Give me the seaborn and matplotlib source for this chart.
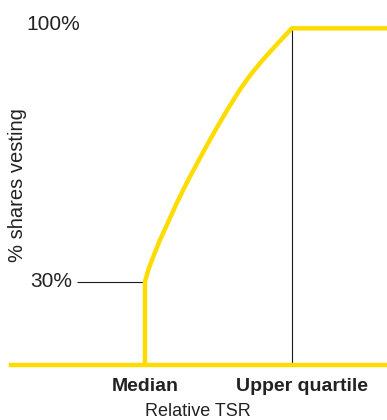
import matplotlib
matplotlib.use("Agg")
import matplotlib.pyplot as plt
import seaborn as sns
import pandas as pd

# Vesting schedule: nothing below median, 30% at median, rising to 100% at upper quartile
relative_tsr = [27.0, 50.0, 50.0, 50.56, 51.41, 52.55, 53.69, 55.39, 57.36, 59.64, 61.90,
                64.17, 65.31, 66.44, 67.86, 69.56, 71.26, 72.96, 75.0, 92.0]
pct_vesting = [0.0, 0.0, 30.0, 33.23, 36.91, 41.52, 45.52, 51.66, 58.09, 65.00, 71.63,
               77.90, 80.88, 83.70, 86.93, 90.33, 93.45, 96.44, 100.0, 100.0]

median_tsr = 50.0
upper_quartile_tsr = 75.0
threshold_pct = 30.0
max_pct = 100.0

x_labels = ["Median", "Upper quartile"]
y_labels = ["100%", "30%"]

YELLOW = "#FFDC00"
TEXT = "#222222"

sns.set_theme(style="white")
plt.rcParams["font.family"] = ["Liberation Sans", "DejaVu Sans"]

fig = plt.figure(figsize=(3.87, 4.20), dpi=100)
ax = fig.add_axes([11 / 387, 55 / 420, 376 / 387, 347 / 420])

df = pd.DataFrame({"tsr": relative_tsr, "vest": pct_vesting})
sns.lineplot(data=df, x="tsr", y="vest", ax=ax, color=YELLOW, linewidth=3.2,
             estimator=None, sort=False)
for line in ax.get_lines():
    line.set_solid_joinstyle("round")
    line.set_solid_capstyle("butt")

ax.set_xlim(27.2, 91.2)
ax.set_ylim(7.0, 102.85)

# Reference lines
ax.vlines(upper_quartile_tsr, 7.0, max_pct, color="#1a1a1a", linewidth=0.8, zorder=1)
ax.hlines(threshold_pct, 38.4, median_tsr, color="#1a1a1a", linewidth=0.8, zorder=1)

for side in ["left", "right", "top"]:
    ax.spines[side].set_visible(False)
ax.spines["bottom"].set_color(YELLOW)
ax.spines["bottom"].set_linewidth(3.2)
ax.spines["bottom"].set_zorder(3)
ax.set_xticks([])
ax.set_yticks([])
ax.set_xlabel("")
ax.set_ylabel("")

# Y value labels
ax.annotate(y_labels[0], xy=(38.95, max_pct), xytext=(0, 2.5), textcoords="offset points",
            ha="right", va="center", fontsize=15, color=TEXT)
ax.annotate(y_labels[1], xy=(37.6, threshold_pct), xytext=(0, 0), textcoords="offset points",
            ha="right", va="center", fontsize=15, color=TEXT)

# X category labels
ax.annotate(x_labels[0], xy=(median_tsr, 0), xycoords=("data", "axes fraction"),
            xytext=(0.5, -18.7), textcoords="offset points",
            ha="center", va="baseline", fontsize=14, fontweight="bold", color=TEXT)
ax.annotate(x_labels[1], xy=(upper_quartile_tsr, 0), xycoords=("data", "axes fraction"),
            xytext=(7.2, -18.7), textcoords="offset points",
            ha="center", va="baseline", fontsize=14, fontweight="bold", color=TEXT)

fig.text(198 / 387, 1 - 416.5 / 420, "Relative TSR", ha="center", va="baseline",
         fontsize=13, color=TEXT)
fig.text(18 / 387, 1 - 185.5 / 420, "% shares vesting", rotation=90, ha="center",
         va="center", fontsize=14.5, color=TEXT)

fig.savefig("out.png", dpi=100)
